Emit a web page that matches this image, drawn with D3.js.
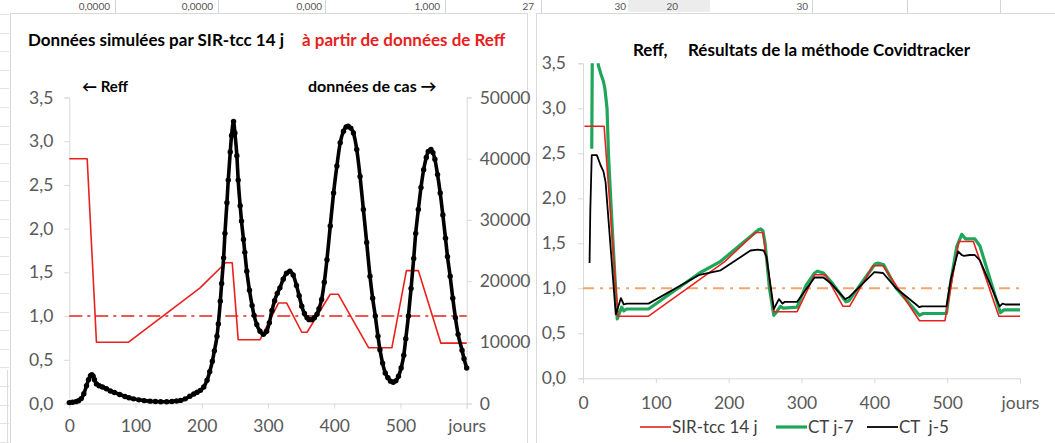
<!DOCTYPE html>
<html lang="fr">
<head>
<meta charset="utf-8">
<script src="https://cdn.jsdelivr.net/npm/d3@7"></script>
<style>
  body { margin: 0; background: #fff; }
  svg { display: block; font-family: Lato, "Open Sans", sans-serif; }
</style>
</head>
<body>
<svg id="feuille" width="1055" height="443"></svg>
<script>
// ---- Données ----------------------------------------------------------

// Graphique de gauche : cas simulés (axe de droite)
const casJours = [0,5,10,14,18,22,26,29,32,34,36,38,41,45,50,56,62,68,76,84,90,97,105,113,122,130,138,147,155,162,168,175,182,188,193,198,203,208,212,216,219,223,225,228,230,233,235,238,240,243,245,248,250,253,255,258,260,263,265,268,272,276,279,283,288,293,298,302,306,310,314,318,323,328,333,338,343,347,351,355,359,362,366,370,374,377,381,385,389,394,399,404,409,414,418,421,425,429,434,439,444,449,454,458,462,466,469,473,477,481,485,489,493,497,501,505,508,512,516,520,523,527,531,535,539,542,546,549,552,556,560,564,568,571,575,579,583,587,593,596,600];
const casValeurs = [150,200,300,450,800,1600,2900,3900,4550,4700,4450,3900,3200,2900,2700,2400,2050,1800,1470,1150,950,760,600,470,380,320,290,280,320,400,510,760,1190,1550,1850,2150,2700,3800,5200,6900,8600,11000,13000,16700,19600,23800,27800,32800,36500,41100,43800,46100,44200,40500,36500,32300,29800,26800,24700,21600,18500,16000,14400,12900,11800,11300,11800,13200,15200,16800,18000,18900,20300,21300,21600,21000,19300,17600,15900,14700,14000,13700,13700,14000,14600,15500,17000,19800,23500,29000,34400,38800,42600,44500,45200,45300,45000,44200,41500,37100,31700,26300,20800,17200,14300,11000,8800,6600,5000,4200,3650,3480,3700,4450,5800,7900,10600,14300,18800,23700,27800,31700,35300,38200,40200,41200,41500,41000,39900,37400,34400,30800,27000,24000,20800,17200,14000,11300,8700,7300,5800];

// Graphique de gauche : Reff imposé (axe de gauche)
const reffJours = [0,27,41,89,197,236,246,255,288,316,328,351,359,394,406,452,487,509,527,561,600];
const reffValeurs = [2.8,2.8,0.70,0.70,1.32,1.61,1.61,0.73,0.73,1.15,1.15,0.815,0.815,1.25,1.25,0.637,0.637,1.52,1.52,0.69,0.69];

// Graphique de droite : SIR-tcc 14 j
const sirJours = [2,29,48,90,195,237,247,262,294,318,333,357,366,398,412,462,497,516,536,571,600];
const sirValeurs = [2.8,2.8,0.69,0.69,1.30,1.62,1.62,0.74,0.74,1.15,1.15,0.80,0.80,1.25,1.25,0.64,0.64,1.52,1.52,0.69,0.69];

// Graphique de droite : CT j-7
const ct7Jours = [12,13,20,21,25,28,30,33,35,40,47,53,56,60,90,160,189,241,244,247,250,256,262,266,271,275,294,306,318,322,330,341,361,365,401,405,413,430,462,467,499,504,513,520,525,538,545,573,578,600];
const ct7Valeurs = [2.55,3.9,3.9,3.48,3.37,3.30,3.22,3.0,2.48,1.69,0.66,0.79,0.75,0.77,0.77,1.17,1.30,1.65,1.66,1.64,1.50,1.0,0.70,0.74,0.80,0.78,0.79,1.03,1.17,1.19,1.17,1.07,0.85,0.86,1.27,1.28,1.26,1.0,0.70,0.72,0.72,1.02,1.46,1.60,1.55,1.55,1.47,0.73,0.76,0.76];

// Graphique de droite : CT j-5
const ct5Jours = [9,10,12,19,24,28,31,45,52,56,60,90,160,189,230,240,248,252,262,269,274,277,294,318,330,341,360,365,400,412,430,462,465,499,505,515,520,523,531,538,545,572,576,580,600];
const ct5Valeurs = [1.28,1.85,2.48,2.48,2.37,2.30,2.18,0.71,0.89,0.82,0.83,0.83,1.15,1.20,1.42,1.43,1.42,1.35,0.77,0.88,0.83,0.85,0.85,1.12,1.12,1.05,0.88,0.90,1.18,1.17,1.0,0.79,0.80,0.80,1.10,1.41,1.37,1.36,1.37,1.37,1.31,0.80,0.83,0.82,0.82];

// Graduations
const joursTicks = [0,100,200,300,400,500,600];
const reffTicks = [0,0.5,1,1.5,2,2.5,3,3.5];
const casTicks = [0,10000,20000,30000,40000,50000];
const seuil = 1.0;

// Légende du graphique de droite
const legendeNoms = ["SIR-tcc 14 j", "CT j-7", "CT  j-5"];

// Cellules de la feuille visibles au-dessus des graphiques
const cellulesTextes = ["0,0000","0,0000","0,000","1,000","27","30","20","30"];

// ---- Mise en page -----------------------------------------------------
const svg = d3.select("#feuille");
const fr = d3.formatLocale({decimal: ",", thousands: "", grouping: [3], currency: ["", " €"]});
const fmt1 = fr.format(".1f");
const ROUGE = "#e8211d", VERT = "#1fa65a", NOIR = "#000", GRIS_AXE = "#d9d9d9", GRIS_TXT = "#595959";

// bande de la feuille de calcul
const bande = svg.append("g");
bande.append("rect").attr("x", 628).attr("y", 0).attr("width", 82).attr("height", 12).attr("fill", "#ececec");
[115, 218, 325, 445, 541, 812, 907, 1000].forEach(x =>
  bande.append("line").attr("x1", x + 0.5).attr("x2", x + 0.5).attr("y1", 0).attr("y2", 13).attr("stroke", "#d4d4d4"));
const cellX = [110, 213, 322, 440, 534, 626, 678, 808];
cellulesTextes.forEach((t, i) =>
  bande.append("text").attr("x", cellX[i]).attr("y", 10).attr("text-anchor", "end")
    .attr("font-size", 10).attr("fill", "#555").text(t));
for (let y = 14; y < 443; y += 18.6) {
  bande.append("line").attr("x1", 0).attr("x2", 9).attr("y1", Math.round(y) + 0.5).attr("y2", Math.round(y) + 0.5).attr("stroke", "#e3e3e3");
}
bande.append("line").attr("x1", 7.5).attr("x2", 7.5).attr("y1", 370).attr("y2", 443).attr("stroke", "#dcdcdc");

// cadres des deux graphiques
svg.append("rect").attr("x", 10.5).attr("y", 13.5).attr("width", 517).attr("height", 440)
  .attr("fill", "#fff").attr("stroke", GRIS_AXE);
svg.append("rect").attr("x", 536.5).attr("y", 13.5).attr("width", 530).attr("height", 440)
  .attr("fill", "#fff").attr("stroke", GRIS_AXE);

function styleAxe(g) {
  g.select(".domain").attr("stroke", GRIS_AXE);
  g.selectAll(".tick line").attr("stroke", GRIS_AXE);
  g.selectAll("text").attr("fill", GRIS_TXT).attr("font-size", 17.5).attr("font-family", "Lato, sans-serif");
}

// ---- Graphique de gauche ---------------------------------------------
const xG = d3.scaleLinear([0, 600], [69.3, 466.7]);
const yG = d3.scaleLinear([0, 3.5], [403.5, 97.5]);
const yC = d3.scaleLinear([0, 50000], [403.5, 97.5]);

svg.append("g").attr("transform", `translate(0,${yG(0)})`)
  .call(d3.axisBottom(xG).tickValues(joursTicks).tickSize(5).tickPadding(11.5)
    .tickFormat(d => d === 600 ? "jours" : d))
  .call(styleAxe);
svg.append("g").attr("transform", `translate(${xG(0)},0)`)
  .call(d3.axisLeft(yG).tickValues(reffTicks).tickSize(5).tickPadding(11).tickFormat(fmt1))
  .call(styleAxe);
svg.append("g").attr("transform", `translate(${xG(600)},0)`)
  .call(d3.axisRight(yC).tickValues(casTicks).tickSize(5).tickPadding(8).tickFormat(d3.format("d")))
  .call(styleAxe);

// seuil Reff = 1
svg.append("line").attr("x1", xG(0)).attr("x2", xG(600)).attr("y1", yG(seuil)).attr("y2", yG(seuil))
  .attr("stroke", ROUGE).attr("stroke-width", 1.6).attr("stroke-dasharray", "13 5 3 5");

const lReff = d3.line().x(d => xG(d[0])).y(d => yG(d[1]));
svg.append("path").datum(d3.zip(reffJours, reffValeurs)).attr("d", lReff)
  .attr("fill", "none").attr("stroke", ROUGE).attr("stroke-width", 1.6).attr("stroke-linejoin", "round");

const cas = d3.zip(casJours, casValeurs);
const lCas = d3.line().x(d => xG(d[0])).y(d => yC(d[1])).curve(d3.curveMonotoneX);
svg.append("path").datum(cas).attr("d", lCas)
  .attr("fill", "none").attr("stroke", NOIR).attr("stroke-width", 3.6).attr("stroke-linejoin", "round");
svg.append("g").selectAll("circle").data(cas).join("circle")
  .attr("cx", d => xG(d[0])).attr("cy", d => yC(d[1])).attr("r", 2.7).attr("fill", NOIR);

// titres
svg.append("text").attr("x", 28).attr("y", 46).attr("font-size", 17).attr("font-weight", 700)
  .attr("fill", "#000").text("Données simulées par SIR-tcc 14 j");
svg.append("text").attr("x", 302).attr("y", 46).attr("font-size", 17).attr("font-weight", 700)
  .attr("fill", ROUGE).text("à partir de données de Reff");
svg.append("text").attr("x", 82).attr("y", 92).attr("font-size", 15).attr("font-weight", 700)
  .attr("fill", "#000").text("← Reff");
svg.append("text").attr("x", 308).attr("y", 92).attr("font-size", 16).attr("font-weight", 700)
  .attr("fill", "#000").text("données de cas →");

// ---- Graphique de droite ---------------------------------------------
const xD = d3.scaleLinear([0, 600], [583, 1020]);
const yD = d3.scaleLinear([0, 3.5], [378.3, 63.3]);

svg.append("g").attr("transform", `translate(0,${yD(0)})`)
  .call(d3.axisBottom(xD).tickValues(joursTicks).tickSize(5).tickPadding(13.5)
    .tickFormat(d => d === 600 ? "jours" : d))
  .call(styleAxe);
svg.append("g").attr("transform", `translate(${xD(0)},0)`)
  .call(d3.axisLeft(yD).tickValues(reffTicks).tickSize(5).tickPadding(12).tickFormat(fmt1))
  .call(styleAxe);

svg.append("defs").append("clipPath").attr("id", "zoneDroite")
  .append("rect").attr("x", xD(0)).attr("y", yD(3.5)).attr("width", xD(600) - xD(0)).attr("height", yD(0) - yD(3.5));

const plot = svg.append("g").attr("clip-path", "url(#zoneDroite)");
plot.append("line").attr("x1", xD(0)).attr("x2", xD(600)).attr("y1", yD(seuil)).attr("y2", yD(seuil))
  .attr("stroke", "#f2a66e").attr("stroke-width", 2).attr("stroke-dasharray", "11 6 3 6");

const lD = d3.line().x(d => xD(d[0])).y(d => yD(d[1]));
const series = [
  {data: d3.zip(sirJours, sirValeurs), color: ROUGE, w: 1.6},
  {data: d3.zip(ct7Jours, ct7Valeurs), color: VERT, w: 3.2},
  {data: d3.zip(ct5Jours, ct5Valeurs), color: NOIR, w: 1.8}
];
// ordre de tracé : vert dessous, puis rouge, puis noir
[series[1], series[0], series[2]].forEach(s =>
  plot.append("path").datum(s.data).attr("d", lD).attr("fill", "none")
    .attr("stroke", s.color).attr("stroke-width", s.w).attr("stroke-linejoin", "round"));

svg.append("text").attr("x", 633).attr("y", 56).attr("font-size", 17).attr("font-weight", 700)
  .attr("fill", "#000").text("Reff,");
svg.append("text").attr("x", 688).attr("y", 56).attr("font-size", 17).attr("font-weight", 700)
  .attr("fill", "#000").text("Résultats de la méthode Covidtracker");

// légende
const legX = [640, 776, 867];
const leg = svg.append("g");
series.forEach((s, i) => {
  leg.append("line").attr("x1", legX[i]).attr("x2", legX[i] + 31).attr("y1", 427).attr("y2", 427)
    .attr("stroke", s.color).attr("stroke-width", s.w);
  leg.append("text").attr("x", legX[i] + 32).attr("y", 433).attr("font-size", 17)
    .attr("fill", "#404040").style("white-space", "pre").text(legendeNoms[i]);
});
</script>
</body>
</html>
